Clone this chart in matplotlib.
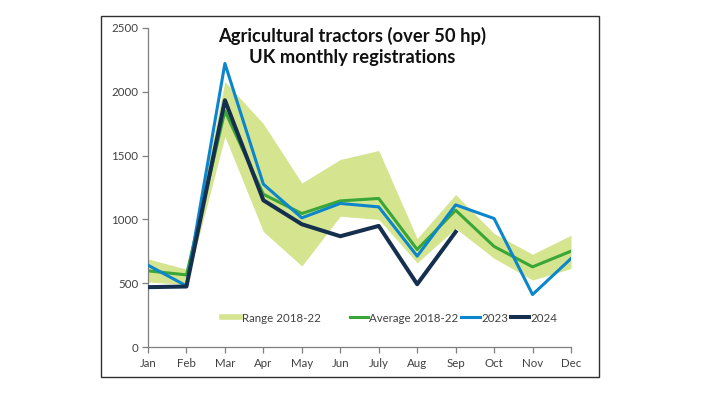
import matplotlib
matplotlib.use("Agg")
import matplotlib.pyplot as plt
from matplotlib.lines import Line2D
from matplotlib.patches import Rectangle

months = ["Jan", "Feb", "Mar", "Apr", "May", "Jun", "July", "Aug", "Sep", "Oct", "Nov", "Dec"]
range_low = [510, 490, 1650, 905, 635, 1025, 1000, 660, 930, 695, 525, 615]
range_high = [690, 610, 2080, 1750, 1285, 1470, 1540, 850, 1195, 890, 727, 876]
average = [597, 565, 1850, 1197, 1046, 1145, 1164, 764, 1072, 788, 628, 751]
y2023 = [641, 479, 2222, 1276, 1012, 1125, 1098, 712, 1114, 1007, 411, 693]
y2024 = [469, 474, 1934, 1150, 962, 868, 949, 492, 902]

plt.rcParams['font.family'] = ['Lato', 'DejaVu Sans']

C_RANGE = "#d5e48f"
C_AVG = "#3aa637"
C_2023 = "#0b86cc"
C_2024 = "#15304f"
C_TXT = "#404040"

fig = plt.figure(figsize=(7.02, 3.95), dpi=100)
fig.patches.append(Rectangle((101/702, 1-377/395), (599-101)/702, (377-16)/395,
                             transform=fig.transFigure, fill=False,
                             edgecolor="#303030", linewidth=1.0))

ax = fig.add_axes([148/702, 1-347/395, (571-148)/702, (347-28)/395])
x = list(range(len(months)))
ax.fill_between(x, range_low, range_high, color=C_RANGE, linewidth=0, zorder=1)
ax.plot(x, average, color=C_AVG, linewidth=2.2, zorder=2)
ax.plot(x, y2023, color=C_2023, linewidth=2.2, zorder=3)
ax.plot(list(range(len(y2024))), y2024, color=C_2024, linewidth=2.9, zorder=4)

ax.set_xlim(0, 11)
ax.set_ylim(0, 2500)
ax.set_yticks([0, 500, 1000, 1500, 2000, 2500])
ax.set_xticks(x)
ax.set_xticklabels(months)
for s in ["top", "right"]:
    ax.spines[s].set_visible(False)
for s in ["left", "bottom"]:
    ax.spines[s].set_color("#7f7f7f")
    ax.spines[s].set_linewidth(0.9)
ax.tick_params(axis="both", colors="#7f7f7f", labelcolor=C_TXT, labelsize=8.3,
               length=4, width=0.9)
ax.tick_params(axis="x", pad=4)
ax.tick_params(axis="y", pad=3)

fig.text(352/702, 1-36/395, "Agricultural tractors (over 50 hp)", ha="center", va="center",
         fontsize=13.2, fontweight="bold", color="#111111")
fig.text(352/702, 1-58/395, "UK monthly registrations", ha="center", va="center",
         fontsize=13.2, fontweight="bold", color="#111111")

h_range = Line2D([], [], color=C_RANGE, linewidth=4)
leg1 = ax.legend([h_range], ["Range 2018-22"], loc="center left",
                 bbox_to_anchor=(216/702, 1-318/395), bbox_transform=fig.transFigure,
                 frameon=False, fontsize=8.3, handlelength=1.6, handletextpad=0.15,
                 borderpad=0, labelcolor=C_TXT)
ax.add_artist(leg1)
hs = [Line2D([], [], color=C_AVG, linewidth=2.2),
      Line2D([], [], color=C_2023, linewidth=2.2),
      Line2D([], [], color=C_2024, linewidth=2.9)]
ax.legend(hs, ["Average 2018-22", "2023", "2024"], loc="center left", ncol=3,
          bbox_to_anchor=(344/702, 1-318/395), bbox_transform=fig.transFigure,
          frameon=False, fontsize=8.3, handlelength=1.6, handletextpad=0.1,
          columnspacing=0.25, borderpad=0, labelcolor=C_TXT)

fig.savefig("out.png", dpi=100)
